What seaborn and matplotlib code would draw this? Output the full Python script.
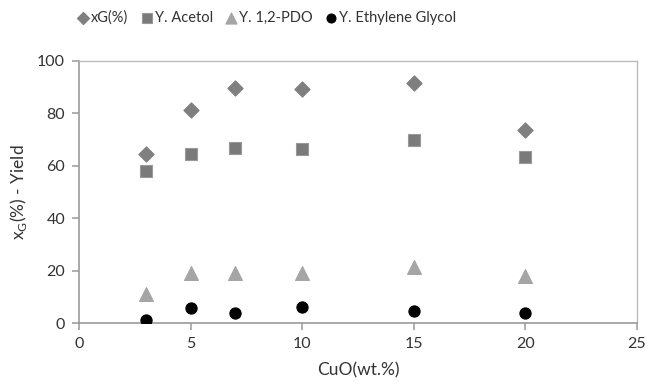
import numpy as np
import pandas as pd
import matplotlib
matplotlib.use("Agg")
import matplotlib.pyplot as plt
import seaborn as sns

# CuO loading (wt.%)
cuo = [3, 5, 7, 10, 15, 20]

# Glycerol conversion and product yields (%)
xg = [64.5, 81.3, 89.8, 89.3, 91.5, 73.5]
acetol = [58.0, 64.5, 66.9, 66.3, 69.7, 63.2]
pdo = [11.0, 19.0, 19.0, 19.0, 21.5, 18.0]
eg = [1.1, 5.6, 3.9, 6.0, 4.7, 3.9]

series_names = ["xG(%)", "Y. Acetol", "Y. 1,2-PDO", "Y. Ethylene Glycol"]
series_values = [xg, acetol, pdo, eg]

x_ticks = [0, 5, 10, 15, 20, 25]
y_ticks = [0, 20, 40, 60, 80, 100]

rows = []
for name, vals in zip(series_names, series_values):
    for x, v in zip(cuo, vals):
        rows.append({"CuO": x, "value": v, "series": name})
df = pd.DataFrame(rows)

sns.set_theme(style="white")
plt.rcParams["font.family"] = ["Lato", "DejaVu Sans"]

fig = plt.figure(figsize=(6.5, 3.88), dpi=100)
ax = fig.add_axes([0.1215, 0.1675, 0.8585, 0.6755])

palette = {"xG(%)": "#7f7f7f", "Y. Acetol": "#7a7a7a",
           "Y. 1,2-PDO": "#a5a5a5", "Y. Ethylene Glycol": "#000000"}
markers = {"xG(%)": "D", "Y. Acetol": "s",
           "Y. 1,2-PDO": "^", "Y. Ethylene Glycol": "o"}
sizes = {"xG(%)": 60, "Y. Acetol": 80, "Y. 1,2-PDO": 100, "Y. Ethylene Glycol": 65}

for name in series_names:
    sub = df[df["series"] == name]
    sns.scatterplot(data=sub, x="CuO", y="value", ax=ax,
                    color=palette[name], marker=markers[name],
                    s=sizes[name], edgecolor="#9a9a9a" if name == "Y. Acetol" else palette[name],
                    linewidth=0.8, label=name, legend=True, zorder=3)

ax.set_xlim(0, 25)
ax.set_ylim(0, 100)
ax.set_xticks(x_ticks)
ax.set_yticks(y_ticks)
ax.set_xlabel("CuO(wt.%)", fontsize=12.5, color="#333333", labelpad=8)
ax.set_ylabel(r"x$_{\mathregular{G}}$(%) - Yield", fontsize=12.5, color="#333333", labelpad=6)

for side in ["left", "bottom"]:
    ax.spines[side].set_color("#999999")
    ax.spines[side].set_linewidth(1.2)
for side in ["top", "right"]:
    ax.spines[side].set_color("#bbbbbb")
    ax.spines[side].set_linewidth(1.0)
ax.spines["right"].set_visible(True)
ax.spines["top"].set_visible(True)

ax.tick_params(axis="both", which="major", direction="out", length=5, width=1.1,
               color="#999999", labelsize=11.5, labelcolor="#333333", pad=5,
               left=True, bottom=True)

ax.legend_.remove()
handles, labels = ax.get_legend_handles_labels()
leg = fig.legend(handles, labels, loc="center", bbox_to_anchor=(267 / 650, 1 - 18 / 388),
                 ncol=4, frameon=False, fontsize=10.5, handlelength=0.7, handletextpad=0.2,
                 columnspacing=0.9, markerscale=0.8, labelcolor="#333333")

fig.savefig("out.png", dpi=100)
